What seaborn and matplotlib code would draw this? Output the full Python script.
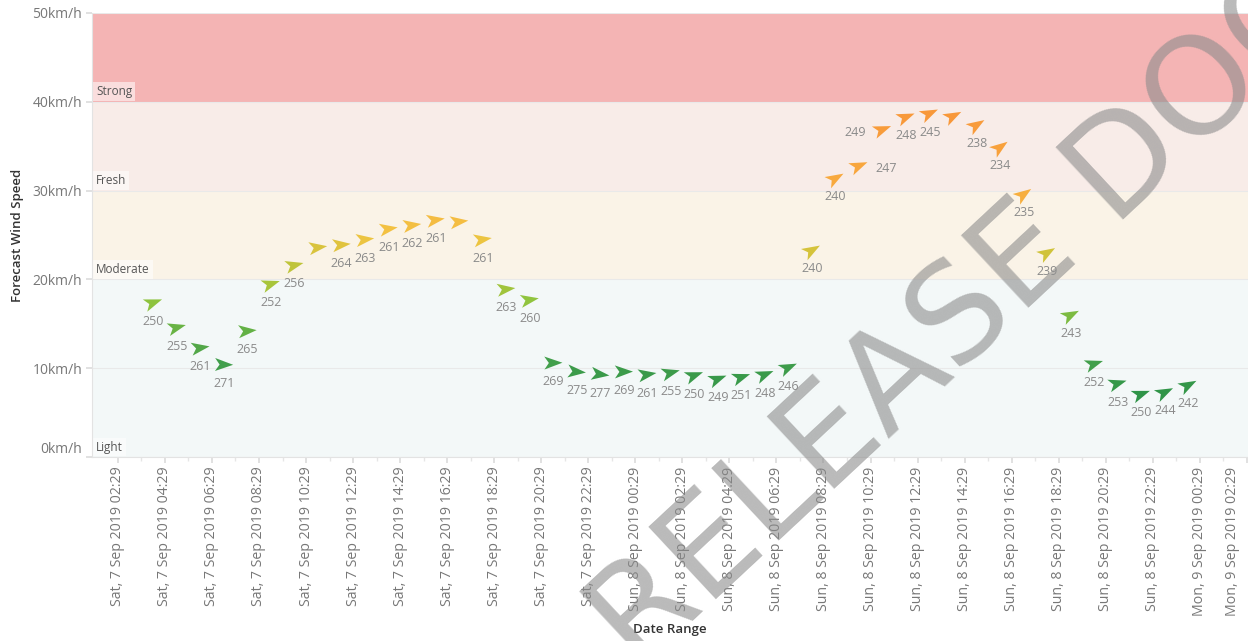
import numpy as np
import pandas as pd
import matplotlib
matplotlib.use('Agg')
import matplotlib.pyplot as plt
import matplotlib.dates as mdates
from matplotlib.markers import MarkerStyle
from matplotlib.path import Path
from matplotlib.transforms import Affine2D, ScaledTranslation
from matplotlib.colors import LinearSegmentedColormap
from matplotlib.ticker import FuncFormatter, FixedLocator
import seaborn as sns

# --- data: hourly forecast, Sat 7 Sep 04:00 -> Mon 9 Sep 00:00 ---
start_time = '2019-09-07 04:00'
wind_speed = [17.4, 14.6, 12.3, 10.4, 14.2, 19.5, 21.6, 23.6, 23.9, 24.5, 25.7, 26.1, 26.7, 26.5, 24.5, 18.9, 17.7,
              10.6, 9.6, 9.3, 9.6, 9.3, 9.5, 9.2, 8.8, 9.0, 9.3, 10.1,
              23.3, 31.4, 32.8, 36.9, 38.3, 38.7, 38.4, 37.4, 34.9, 29.6, 23.0,
              16.0, 10.5, 8.3, 7.1, 7.3, 8.1]
wind_dir = [250, 255, 261, 271, 265, 252, 256, 262, 264, 263, 261, 262, 261, 263, 261, 263, 260,
            269, 275, 277, 269, 261, 255, 250, 249, 251, 248, 246,
            240, 240, 247, 249, 248, 245, 243, 238, 234, 235, 239,
            243, 252, 253, 250, 244, 242]
# labels that tableau hid because of overlap
hidden_labels = [7, 13, 34]

band_names = ['Light', 'Moderate', 'Fresh', 'Strong']
band_edges = [0, 20, 30, 40, 50]
band_colors = ['#f3f8f8', '#faf3e7', '#f8ece8', '#f4b4b4']
speed_ticks = [0, 10, 20, 30, 40, 50]

tick_start = '2019-09-07 02:29'
tick_count = 25

df = pd.DataFrame({
    'time': pd.date_range(start_time, periods=len(wind_speed), freq='h'),
    'speed': wind_speed,
    'direction': wind_dir,
})

# --- figure ---
sns.set_theme(style='white')
plt.rcParams['font.family'] = ['Open Sans', 'DejaVu Sans']

fig = plt.figure(figsize=(12.48, 6.41), dpi=100)
ax = fig.add_axes([92 / 1248, 1 - 457 / 641, 1 - 92 / 1248, (457 - 13) / 641])

for lo, hi, c, name in zip(band_edges[:-1], band_edges[1:], band_colors, band_names):
    ax.axhspan(lo, hi, color=c, zorder=0, lw=0)
    ax.annotate(name, (0.0035, lo), xycoords=ax.get_yaxis_transform(),
                xytext=(0, 2.5), textcoords='offset points', ha='left', va='bottom',
                fontsize=8.5, color='#555555', zorder=2,
                bbox=dict(boxstyle='square,pad=0.25', fc='white', ec='none', alpha=0.55))

for y in speed_ticks:
    ax.axhline(y, color='#e9e9e9', lw=0.8, zorder=0.5)

# navigation-style arrow marker, pointing along +x
arrow = Path([(1.0, 0.0), (-1.0, 0.72), (-0.5, 0.0), (-1.0, -0.72), (1.0, 0.0)],
             [Path.MOVETO, Path.LINETO, Path.LINETO, Path.LINETO, Path.CLOSEPOLY])
# arrow points where the wind goes to: bearing dir-180 -> screen angle 270-dir
arrow_markers = {d: MarkerStyle(arrow, transform=Affine2D().rotate_deg(270 - d))
                 for d in sorted(set(wind_dir))}

wind_cmap = LinearSegmentedColormap.from_list('wind', [
    (0.0, '#2f9448'), (0.10, '#3f9d4b'), (0.22, '#62b045'), (0.33, '#8fc43e'),
    (0.42, '#b3c53a'), (0.50, '#cfc33a'), (0.56, '#f2c443'), (0.72, '#f8ad3f'), (1.0, '#f8973a')])

sns.scatterplot(data=df, x='time', y='speed', hue='speed', palette=wind_cmap, hue_norm=(7, 39),
                style='direction', markers=arrow_markers, s=170, linewidth=0,
                legend=False, ax=ax, zorder=3)

for i, row in df.iterrows():
    if i in hidden_labels:
        continue
    dx, dy, ha = 0, -13.5, 'center'
    if i == 31:
        dx, dy, ha = -12, -2, 'right'
    elif i == 30:
        dx, dy, ha = 12, -2, 'left'
    ax.annotate(str(row['direction']), (mdates.date2num(row['time']), row['speed']),
                xytext=(dx, dy), textcoords='offset points', ha=ha, va='center',
                fontsize=9, color='#8a8a8a', zorder=4)

# axes
t0 = pd.Timestamp(tick_start)
ax.set_xlim(t0 - pd.Timedelta(hours=1.1), t0 + pd.Timedelta(hours=48.05))
ax.set_ylim(0, 50)
major = pd.date_range(tick_start, periods=tick_count, freq='2h')
minor = pd.date_range(tick_start, periods=tick_count * 2, freq='h')
ax.xaxis.set_major_locator(FixedLocator(mdates.date2num(major)))
ax.xaxis.set_minor_locator(FixedLocator(mdates.date2num(minor)))
ax.xaxis.set_major_formatter(mdates.DateFormatter('%a, %-d %b %Y %H:%M'))
ax.yaxis.set_major_locator(FixedLocator(speed_ticks))
ax.yaxis.set_major_formatter(FuncFormatter(lambda v, p: f'{v:.0f}km/h'))

ax.tick_params(axis='x', which='major', rotation=90, labelsize=10.2, labelcolor='#777777',
               length=4, color='#dddddd', bottom=True, pad=3)
ax.tick_params(axis='x', which='minor', length=3, color='#e6e6e6', bottom=True)
ax.tick_params(axis='y', labelsize=10, labelcolor='#777777', length=4, color='#dddddd', left=True, pad=3)

for s in ['top', 'right']:
    ax.spines[s].set_visible(False)
for s in ['left', 'bottom']:
    ax.spines[s].set_color('#e3e3e3')
    ax.spines[s].set_linewidth(0.8)

ax.set_xlabel('Date Range', fontsize=9.5, color='#333333', fontweight='semibold')
ax.set_ylabel('Forecast Wind Speed', fontsize=9.5, color='#333333', fontweight='semibold')
ax.xaxis.set_label_coords(0.5, -(623 - 457) / 444, transform=ax.transAxes)
ax.yaxis.set_label_coords(-(92 - 24) / 1156, 0.5, transform=ax.transAxes)

# watermark
fig.text(612 / 1248, 1 - 645 / 641, 'RELEASE DOCUMENT', rotation=43, rotation_mode='anchor',
         ha='left', va='center', fontsize=98, color='#8c8c8c', alpha=0.6, zorder=10,
         family='DejaVu Sans')

# tableau keeps the edge labels inside the view
fig.canvas.draw()
ylabels = ax.get_yticklabels()
ylabels[0].set_va('bottom')
xlabels = ax.get_xticklabels()
xlabels[-1].set_transform(xlabels[-1].get_transform() + ScaledTranslation(-10 / 72, 0, fig.dpi_scale_trans))

fig.savefig('out.png', dpi=100)
